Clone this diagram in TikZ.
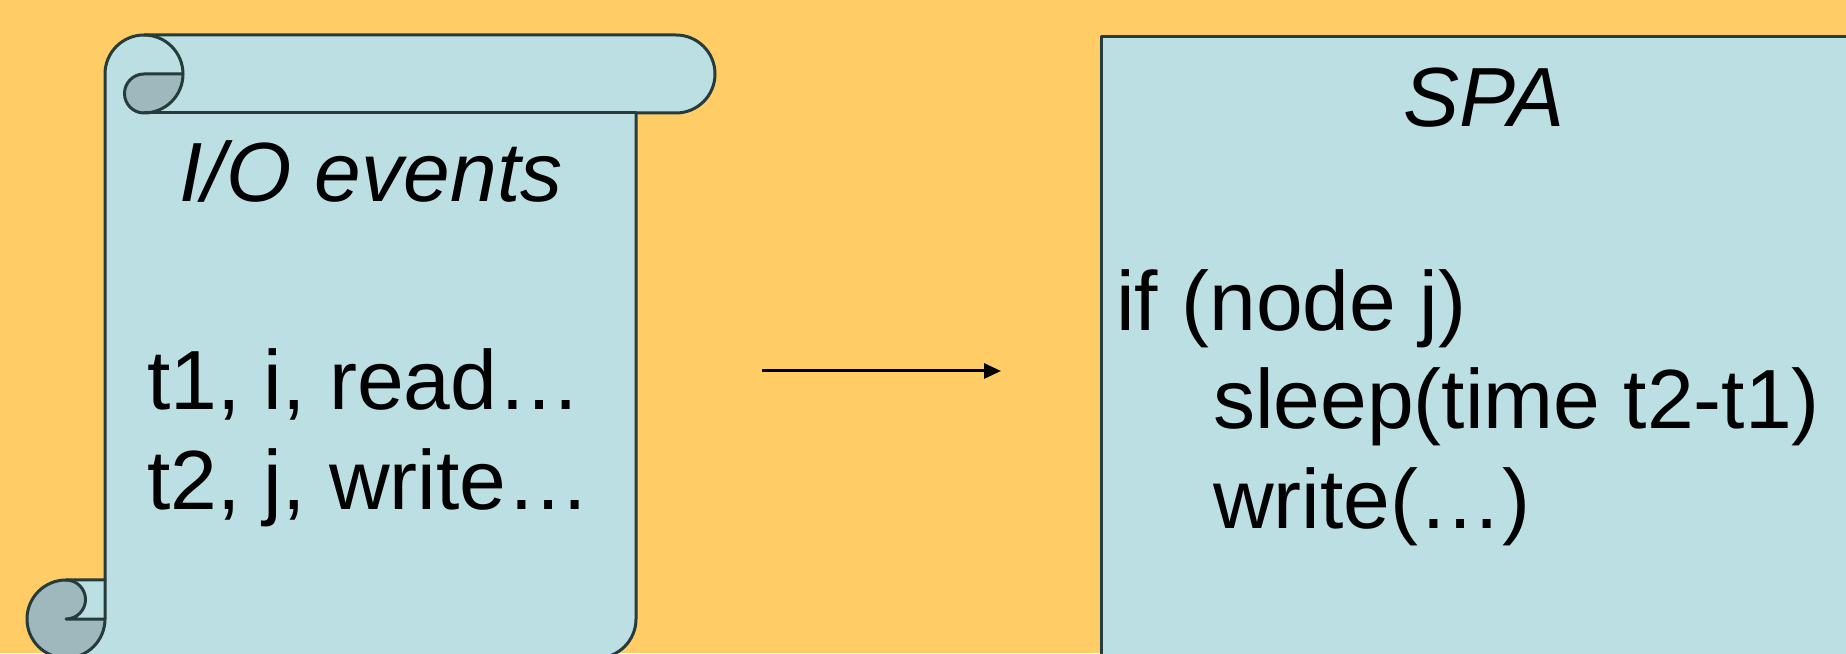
\documentclass[tikz,border=0pt]{standalone}
\usepackage{fontspec}
\setmainfont{Liberation Sans}
\usetikzlibrary{arrows.meta}
\definecolor{bg}{HTML}{FFCC66}
\definecolor{paper}{HTML}{BBDFE3}
\definecolor{curl}{HTML}{9EB8BE}
\definecolor{edge}{HTML}{263C3C}
\begin{document}
\begin{tikzpicture}[x=1pt,y=1pt,
  outline/.style={draw=edge,line width=3pt,line join=round,line cap=round},
  txt/.style={font=\fontsize{84}{100}\selectfont,inner sep=0pt,text=black},
  ttl/.style={txt,font=\fontsize{84}{100}\selectfont\itshape},
  conn/.style={line width=3pt,-{Triangle[length=17pt,width=15pt]}}]
\useasboundingbox (0,0) rectangle (1846,653);
\clip (0,0) rectangle (1846,653);
\fill[bg] (0,0) rectangle (1846,653);
% scroll body
\fill[paper] (105,73) -- (105,579) arc[start angle=180,end angle=90,radius=39]
  -- (676,618) arc[start angle=90,end angle=-90,radius=39]
  -- (636,540) -- (636,34) arc[start angle=0,end angle=-90,radius=39]
  -- (66,-5) arc[start angle=-90,end angle=-270,radius=39] -- cycle;
% dark curls
\fill[curl] (183,579) -- (144,579) arc[start angle=90,end angle=270,radius=19.5]
  arc[start angle=-90,end angle=0,radius=39] -- cycle;
\fill[curl] (66,73) arc[start angle=90,end angle=360,radius=39] -- (66,34)
  arc[start angle=-90,end angle=90,radius=19.5] -- cycle;
% outlines
\draw[outline] (105,73) -- (105,579) arc[start angle=180,end angle=90,radius=39]
  -- (676,618) arc[start angle=90,end angle=-90,radius=39]
  -- (636,540) -- (636,34) arc[start angle=0,end angle=-90,radius=39]
  -- (66,-5) arc[start angle=-90,end angle=-270,radius=39] -- cycle;
\draw[outline] (144,618) arc[start angle=90,end angle=-90,radius=39]
  arc[start angle=-90,end angle=-270,radius=19.5] -- (183,579);
\draw[outline] (636,540) -- (144,540);
\draw[outline] (66,73) arc[start angle=90,end angle=-90,radius=19.5] -- (105,34);
\draw[outline] (66,-5) arc[start angle=-90,end angle=0,radius=39] -- (105,73);
% scroll text
\node[ttl,anchor=base] (iotitle) at (371,451) {I/O events};
\node[txt,anchor=base west] (ev1) at (147,243) {t1, i, read…};
\node[txt,anchor=base west] (ev2) at (147,143) {t2, j, write…};
% SPA box
\node[outline,fill=paper,anchor=north west,minimum width=820pt,minimum height=700pt] (spa) at (1100,618) {};
\node[ttl,anchor=base] (spatitle) at (1484,526) {SPA};
\node[txt,anchor=base west] (c1) at (1116,322) {if (node j)};
\node[txt,anchor=base west] (c2) at (1213,224) {sleep(time t2-t1)};
\node[txt,anchor=base west] (c3) at (1213,124) {write(…)};
% arrow
\coordinate (a1) at (762,282);
\coordinate (a2) at (1001,282);
\draw[conn] (a1) -- (a2);
\end{tikzpicture}
\end{document}
